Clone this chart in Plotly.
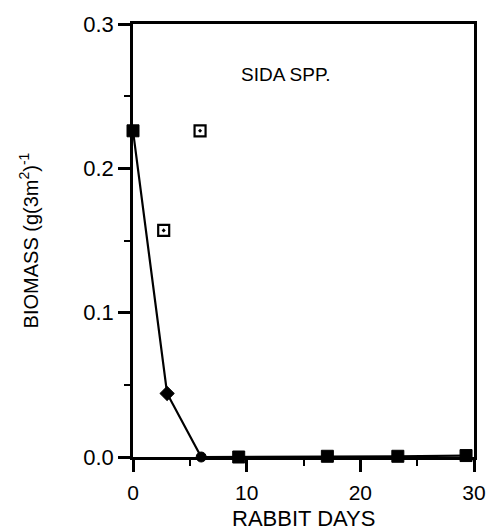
import plotly.graph_objects as go

# Data
days_line = [0, 3, 6, 9.3, 17.1, 23.3, 29.3]
biomass_line = [0.226, 0.044, 0.0, 0.0, 0.0005, 0.0005, 0.001]
line_symbols = ["square", "diamond", "circle", "square", "square", "square", "square"]
line_sizes = [12, 11, 10, 12, 12, 12, 12]

days_open = [2.7, 5.9]
biomass_open = [0.157, 0.226]

x_ticks = [0, 10, 20, 30]
y_ticks = [0.0, 0.1, 0.2, 0.3]

FONT = "Liberation Sans, Arial, sans-serif"

fig = go.Figure()
fig.add_trace(go.Scatter(
    x=days_line, y=biomass_line, mode="lines+markers",
    line=dict(color="black", width=2.2),
    marker=dict(symbol=line_symbols, size=line_sizes, color="black", opacity=1,
                line=dict(color="black", width=1)),
    showlegend=False, cliponaxis=False,
))
fig.add_trace(go.Scatter(
    x=days_open, y=biomass_open, mode="markers",
    marker=dict(symbol="square-open-dot", size=11, color="black",
                line=dict(width=2.2, color="black")),
    showlegend=False, cliponaxis=False,
))

fig.add_annotation(x=13.4, y=0.265, text="SIDA SPP.", showarrow=False,
                   font=dict(family=FONT, size=19, color="black"))

# x-axis title placed just under the tick labels
fig.add_annotation(x=0.5, y=-0.142, xref="paper", yref="paper", text="RABBIT DAYS",
                   showarrow=False, xanchor="center", yanchor="middle",
                   font=dict(family=FONT, size=22, color="black"))

fig.update_xaxes(
    range=[0, 30], tickvals=x_ticks, ticktext=[str(v) for v in x_ticks],
    ticks="outside", ticklen=12, tickwidth=2.5, tickcolor="black",
    showline=True, linewidth=2.5, linecolor="black", mirror=True,
    showgrid=False, zeroline=False, ticklabelstandoff=3, automargin=False,
    minor=dict(tickvals=[5, 15, 25], ticks="outside", ticklen=6, tickwidth=2, tickcolor="black"),
    tickfont=dict(family=FONT, size=21, color="black"),
)
fig.update_yaxes(
    range=[0, 0.3], tickvals=y_ticks, ticktext=["%.1f" % v for v in y_ticks],
    ticks="outside", ticklen=12, tickwidth=2.5, tickcolor="black",
    showline=True, linewidth=2.5, linecolor="black", mirror=True,
    showgrid=False, zeroline=False,
    minor=dict(tickvals=[0.05, 0.15, 0.25], ticks="outside", ticklen=6, tickwidth=2, tickcolor="black"),
    tickfont=dict(family=FONT, size=22, color="black"),
    title=dict(text="BIOMASS (g(3m<sup>2</sup>)<sup>-1</sup>", font=dict(family=FONT, size=20, color="black"), standoff=40),
)
fig.update_layout(
    width=492, height=530,
    margin=dict(l=133, r=18, t=22, b=73),
    plot_bgcolor="white", paper_bgcolor="white",
)
fig.write_html("out.html")
